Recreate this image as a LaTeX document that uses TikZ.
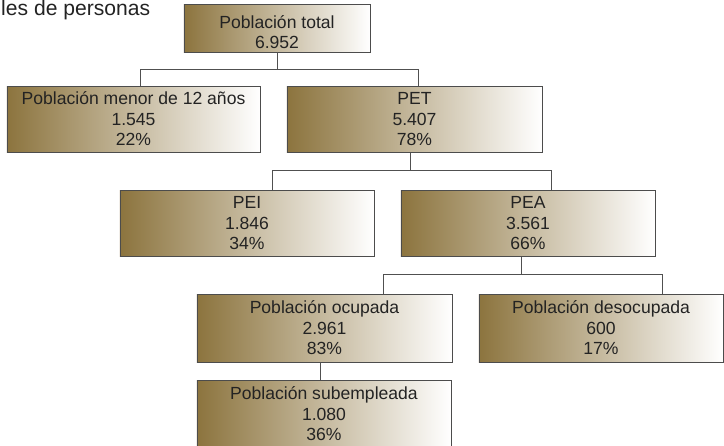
\documentclass[tikz,border=0pt]{standalone}
\usepackage{fontspec}
\setmainfont{Liberation Sans}
\usetikzlibrary{calc}
\definecolor{cafe}{RGB}{140,116,62}
\definecolor{texto}{RGB}{35,35,35}
\definecolor{linea}{RGB}{80,80,80}

\begin{document}
\begin{tikzpicture}[x=0.03cm, y=-0.03cm,
    caja/.style={draw=black!70, line width=0.7pt, left color=cafe, right color=white,
        text=texto, align=center, inner sep=0pt, minimum height=2cm,
        font=\fontsize{15}{17.5}\selectfont},
    conector/.style={draw=linea, line width=0.8pt}]
    \clip (0,0) rectangle (724,445);

    % Titulo (cortado)
    \node[anchor=base west, inner sep=0pt, text=texto, font=\fontsize{18}{20}\selectfont] (titulo) at (1,15) {les de personas};

    % Cajas
    \node[caja, minimum width=5.58cm, minimum height=1.44cm,
        label={[inner sep=0pt, yshift=-0.13cm, align=center, text=texto, font=\fontsize{15}{17.5}\selectfont]center:Población total\\6.952}] (total) at (277,28) {};
    \node[caja, minimum width=7.59cm, minimum height=1.98cm] (menor) at (133.5,119) {Población menor de 12 años\\1.545\\22\%};
    \node[caja, minimum width=7.65cm] (pet) at (414.5,119.5) {PET\\5.407\\78\%};
    \node[caja, minimum width=7.62cm] (pei) at (247,223.5) {PEI\\1.846\\34\%};
    \node[caja, minimum width=7.62cm] (pea) at (528,223.5) {PEA\\3.561\\66\%};
    \node[caja, minimum width=7.65cm, minimum height=2.04cm] (ocupada) at (324.5,328) {Población ocupada\\2.961\\83\%};
    \node[caja, minimum width=7.32cm, minimum height=2.04cm] (desocupada) at (601,328) {Población desocupada\\600\\17\%};
    \node[caja, minimum width=7.62cm, minimum height=2.04cm] (subempleada) at (324,414) {Población subempleada\\1.080\\36\%};

    % Lineas
    \draw[conector] (total.south) -- ++(0,18);
    \draw[conector] ($(menor.north)+(6.5,0)$) -- ++(0,-16) -| ($(pet.north)+(3.5,0)$);

    \draw[conector] ($(pet.south)+(-4.5,0)$) -- ++(0,18);
    \draw[conector] ($(pei.north)+(25,0)$) -- ++(0,-19) -| ($(pea.north)+(23,0)$);

    \draw[conector] ($(pea.south)+(-7,0)$) -- ++(0,18);
    \draw[conector] ($(ocupada.north)+(58.5,0)$) -- ++(0,-19) -| ($(desocupada.north)+(61,0)$);

    \draw[conector] ($(ocupada.south)+(-4.5,0)$) -- ($(subempleada.north)+(-4,0)$);
\end{tikzpicture}
\end{document}
